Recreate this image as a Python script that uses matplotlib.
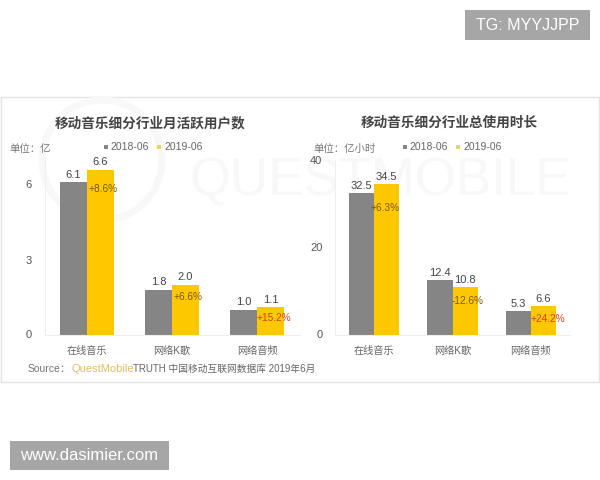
import matplotlib
matplotlib.use('Agg')
import matplotlib.pyplot as plt
from matplotlib.patches import Rectangle, Circle
from matplotlib.transforms import IdentityTransform

plt.rcParams['font.family'] = ['Liberation Sans', 'Noto Sans CJK SC', 'DejaVu Sans']

categories = ['在线音乐', '网络K歌', '网络音频']
series_names = ['2018-06', '2019-06']

users_2018 = [6.1, 1.8, 1.0]
users_2019 = [6.6, 2.0, 1.1]
users_change = ['+8.6%', '+6.6%', '+15.2%']
users_ticks = [0, 3, 6]

hours_2018 = [32.5, 12.4, 5.3]
hours_2019 = [34.5, 10.8, 6.6]
hours_change = ['+6.3%', '-12.6%', '+24.2%']
hours_ticks = [0, 20, 40]

GRAY = '#858585'
YELLOW = '#fdc800'
FAINT = '#f8f8f8'
W, H = 600, 480

fig = plt.figure(figsize=(6, 4.8), dpi=100)


def px_axes(x0, y0, x1, y1):
    # pixel box to figure fractions, y counted from the top
    return fig.add_axes([x0 / W, 1 - y1 / H, (x1 - x0) / W, (y1 - y0) / H])


def ftext(x, y, s, **kw):
    kw.setdefault('ha', 'left')
    kw.setdefault('va', 'center')
    return fig.text(x / W, 1 - y / H, s, **kw)


def frect(x0, y0, x1, y1, **kw):
    fig.add_artist(Rectangle((x0 / W, 1 - y1 / H), (x1 - x0) / W, (y1 - y0) / H,
                             transform=fig.transFigure, **kw))


def draw_panel(ax, old, new, change, ticks, top, nudges):
    xs = range(len(categories))
    width = 0.32
    ax.bar([x - width / 2 for x in xs], old, width, color=GRAY)
    ax.bar([x + width / 2 for x in xs], new, width, color=YELLOW)
    ax.set_xlim(-0.5, 2.5)
    ax.set_ylim(0, top)
    ax.set_xticks(list(xs))
    ax.set_xticklabels(categories, fontsize=7.3, color='#666666')
    ax.set_yticks(ticks)
    ax.set_yticklabels([str(t) for t in ticks], fontsize=8, color='#555555')
    ax.tick_params(length=0, pad=9)
    ax.tick_params(axis='x', pad=8)
    for s in ['top', 'right']:
        ax.spines[s].set_visible(False)
    for s in ['left', 'bottom']:
        ax.spines[s].set_color('#eeeeee')
        ax.spines[s].set_linewidth(0.8)
    ax.patch.set_alpha(0)
    for i, x in enumerate(xs):
        ax.annotate(f'{old[i]:.1f}', (x - width / 2, old[i]), xytext=(0, 1.5),
                    textcoords='offset points', ha='center', va='bottom',
                    fontsize=8, color='#444444')
        ax.annotate(f'{new[i]:.1f}', (x + width / 2, new[i]), xytext=(0, 1.5),
                    textcoords='offset points', ha='center', va='bottom',
                    fontsize=8, color='#444444')
        pct = change[i]
        col = '#d4401a' if pct in ('+15.2%', '+24.2%') else '#7a5a00'
        # percentage labels sit at slightly different spots on each bar
        ax.annotate(pct, (x + width / 2, new[i]), xytext=nudges[i],
                    textcoords='offset points', ha='center', va='center',
                    fontsize=7.3, color=col)


# panel frame, kept behind the axes
frect(1, 97, 599, 382, facecolor='white', edgecolor='#e2e2e2', linewidth=1, zorder=-3)

# faint watermark behind the bars
fig.add_artist(Circle((102, H - 160), 60, transform=IdentityTransform(), fill=False,
                      edgecolor=FAINT, linewidth=5, zorder=-2))
ftext(190, 181, 'QUESTMOBILE', fontsize=38, color=FAINT, zorder=-2)

ax1 = px_axes(44.5, 159.5, 299.5, 334.5)
draw_panel(ax1, users_2018, users_2019, users_change, users_ticks, 7,
           [(2, -14), (2, -9), (2, -8)])
ax2 = px_axes(335, 160, 570, 334.5)
draw_panel(ax2, hours_2018, hours_2019, hours_change, hours_ticks, 40,
           [(-1.5, -17), (2, -9.5), (3, -9.5)])

ftext(150, 123, '移动音乐细分行业月活跃用户数', ha='center', fontsize=9.8, weight='bold', color='#444444')
ftext(449.5, 123, '移动音乐细分行业总使用时长', ha='center', fontsize=9.8, weight='bold', color='#444444')
ftext(9, 149, '单位：亿', fontsize=7.5, color='#777777')
ftext(313, 149, '单位：亿小时', fontsize=7.5, color='#777777')

# hand placed legends
for x_off in (104, 403):
    frect(x_off, 145, x_off + 4, 149, facecolor=GRAY, edgecolor='none')
    ftext(x_off + 6, 147, series_names[0], fontsize=7.5, color='#666666')
    frect(x_off + 53, 145, x_off + 57, 149, facecolor='#e6d66a', edgecolor='none')
    ftext(x_off + 60, 147, series_names[1], fontsize=7.5, color='#666666')

ftext(28, 369, 'Source：', fontsize=7.5, color='#777777')
ftext(72, 369, 'QuestMobile', fontsize=8, color='#e0c060')
ftext(133, 369, 'TRUTH 中国移动互联网数据库 2019年6月', fontsize=7, color='#666666')

# repost stamps
frect(465, 10, 590, 40, facecolor='#a6a6a6', edgecolor='none')
ftext(527.5, 25, 'TG: MYYJJPP', ha='center', fontsize=11.5, color='white')
frect(10, 441, 169, 470, facecolor='#a6a6a6', edgecolor='none')
ftext(89.5, 455.5, 'www.dasimier.com', ha='center', fontsize=12, color='white')

fig.savefig('out.png', dpi=100, facecolor='white')
